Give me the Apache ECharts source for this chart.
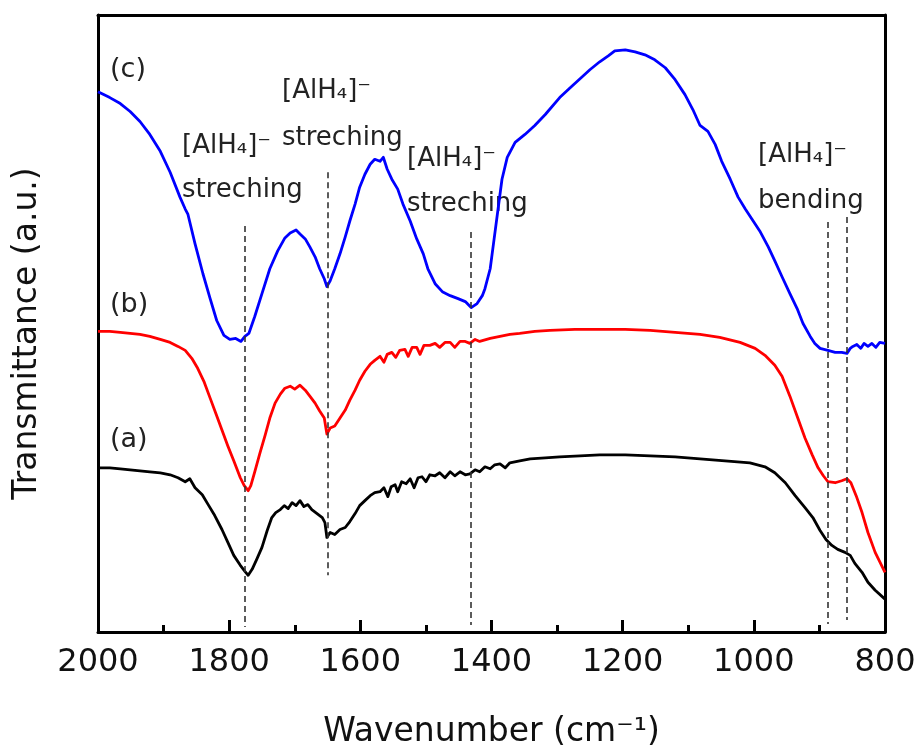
<!DOCTYPE html>
<html>
<head>
<meta charset="utf-8">
<title>FTIR spectra</title>
<script src="https://cdn.jsdelivr.net/npm/echarts@6/dist/echarts.min.js"></script>
<style>
  html, body { margin: 0; padding: 0; background: #fff; }
  #chart { width: 920px; height: 754px; }
</style>
</head>
<body>
<div id="chart"></div>
<script>
// Spectrum (a): [wavenumber cm-1, transmittance a.u.]
const curveA = [
  [2000,165],[1982,165],[1966,164],[1951,163],[1936,162],[1921,161],[1905,160],[1890,158],
  [1878,155],[1867,151],[1860,154],[1852,145],[1841,138],[1832,128],[1822,117],[1811,103],
  [1802,90],[1793,77],[1783,67],[1776,61],[1771,57],[1765,63],[1758,73],[1750,85],
  [1742,102],[1735,115],[1729,120],[1722,123],[1716,127],[1710,124],[1704,130],[1698,127],
  [1692,132],[1686,126],[1680,128],[1674,123],[1666,119],[1658,115],[1654,110],[1651,95],
  [1646,100],[1639,98],[1631,103],[1623,105],[1616,111],[1608,119],[1601,127],[1593,132],
  [1585,137],[1578,140],[1570,141],[1564,145],[1558,136],[1553,146],[1547,148],[1543,141],
  [1537,151],[1530,149],[1524,154],[1518,145],[1512,155],[1506,156],[1500,151],[1494,158],
  [1486,157],[1479,160],[1471,155],[1463,161],[1456,157],[1448,161],[1440,158],[1433,159],
  [1425,163],[1418,161],[1410,166],[1402,164],[1395,168],[1387,169],[1379,165],[1372,170],
  [1357,172],[1341,174],[1318,175],[1296,176],[1265,177],[1235,178],[1196,178],[1158,177],
  [1120,176],[1082,174],[1044,172],[1006,170],[983,166],[968,160],[952,150],[937,137],
  [922,125],[910,115],[899,102],[890,93],[881,87],[872,83],[861,80],[853,77],
  [846,69],[835,60],[826,50],[815,42],[800,33]
];

// Spectrum (b)
const curveB = [
  [2000,302],[1982,302],[1966,301],[1951,300],[1936,299],[1921,297],[1905,294],[1890,291],
  [1878,287],[1867,283],[1857,275],[1848,265],[1838,251],[1829,235],[1820,219],[1811,203],
  [1802,187],[1793,172],[1783,155],[1777,147],[1771,142],[1767,147],[1761,161],[1753,180],
  [1745,198],[1738,215],[1730,230],[1722,239],[1715,245],[1707,247],[1700,244],[1692,248],
  [1684,243],[1677,237],[1669,230],[1662,222],[1655,215],[1651,199],[1646,205],[1639,207],
  [1631,215],[1623,223],[1616,233],[1608,243],[1601,253],[1593,262],[1585,269],[1578,273],
  [1570,277],[1564,271],[1559,279],[1552,281],[1546,276],[1540,283],[1532,284],[1527,277],
  [1521,286],[1514,286],[1509,279],[1503,288],[1494,288],[1486,290],[1479,286],[1471,291],
  [1463,291],[1456,286],[1448,292],[1440,292],[1433,290],[1425,294],[1418,292],[1402,295],
  [1387,297],[1372,299],[1357,300],[1334,302],[1311,303],[1273,304],[1235,304],[1196,304],
  [1158,303],[1120,301],[1082,299],[1052,296],[1021,291],[998,285],[983,278],[968,268],
  [957,257],[945,237],[933,215],[922,195],[911,178],[902,165],[894,157],[887,151],
  [876,150],[866,152],[858,154],[852,150],[844,137],[835,120],[826,100],[815,80],[800,60]
];

// Spectrum (c)
const curveC = [
  [2000,543],[1982,537],[1966,531],[1951,523],[1936,513],[1921,500],[1905,483],[1890,462],
  [1875,437],[1867,425],[1863,420],[1852,390],[1840,360],[1829,335],[1819,313],[1808,298],
  [1799,294],[1790,295],[1782,292],[1776,297],[1770,300],[1761,317],[1750,340],[1738,365],
  [1726,383],[1715,396],[1707,401],[1698,404],[1692,400],[1684,395],[1677,387],[1669,377],
  [1662,365],[1655,355],[1651,347],[1646,353],[1639,365],[1631,380],[1623,397],[1616,413],
  [1608,430],[1601,447],[1593,460],[1585,470],[1578,475],[1570,473],[1565,477],[1562,479],
  [1559,465],[1552,455],[1543,445],[1535,430],[1524,413],[1514,395],[1504,380],[1497,365],
  [1486,350],[1475,342],[1463,338],[1451,335],[1440,332],[1431,326],[1422,330],[1414,338],
  [1410,345],[1402,365],[1396,395],[1390,425],[1384,455],[1376,477],[1364,492],[1349,500],
  [1334,509],[1318,520],[1296,537],[1280,547],[1265,556],[1250,565],[1235,573],[1222,579],
  [1212,584],[1196,585],[1181,583],[1166,580],[1151,575],[1135,567],[1120,555],[1105,540],
  [1093,525],[1082,509],[1070,503],[1059,490],[1049,473],[1036,455],[1024,437],[1013,425],
  [1003,415],[991,403],[978,387],[968,373],[957,357],[945,340],[934,325],[925,310],
  [914,297],[907,290],[899,285],[887,283],[876,281],[866,281],[858,280],[853,285],
  [849,287],[843,289],[837,285],[832,290],[826,287],[820,290],[814,286],[808,291],[800,290]
];

// Band assignments: wavenumber and vertical extent of each guide line
const bandWavenumbers = [1776, 1650, 1431, 887, 858];
const bandTop = [408, 462, 402, 412, 417];
const bandBottom = [5, 57, 7, 8, 12];

const seriesNames = ['(a)', '(b)', '(c)'];
const seriesColors = ['#000000', '#ff0000', '#0000ff'];

const FONT = '"DejaVu Sans", "Liberation Sans", Arial, sans-serif';

const chart = echarts.init(document.getElementById('chart'), null, { renderer: 'canvas' });

const guideLines = bandWavenumbers.map((w, i) => [
  { coord: [w, bandTop[i]] },
  { coord: [w, bandBottom[i]] }
]);

const curves = [curveA, curveB, curveC];

const series = curves.map((data, i) => ({
  name: seriesNames[i],
  type: 'line',
  data: data,
  showSymbol: false,
  symbol: 'none',
  lineStyle: { color: seriesColors[i], width: 2.8, join: 'round' },
  z: 3
}));

series.push({
  name: 'bands',
  type: 'line',
  data: [],
  markLine: {
    silent: true,
    symbol: ['none', 'none'],
    label: { show: false },
    lineStyle: { color: '#333', width: 1.6, type: [6, 4] },
    data: guideLines
  },
  z: 2
});

function txt(text, x, y, size) {
  return {
    type: 'text',
    silent: true,
    style: {
      text: text,
      x: x,
      y: y,
      fill: '#222',
      font: size + 'px ' + FONT,
      align: 'left',
      verticalAlign: 'middle'
    }
  };
}

const frameLine = { show: true, onZero: false, lineStyle: { color: '#000', width: 3 } };

const option = {
  animation: false,
  backgroundColor: '#fff',
  grid: { left: 98, right: 35, top: 15, bottom: 119 },
  xAxis: [
    {
      type: 'value', min: 800, max: 2000, interval: 200, inverse: true, position: 'bottom',
      name: 'Wavenumber (cm⁻¹)',
      nameLocation: 'middle',
      nameGap: 84,
      nameTextStyle: { fontFamily: FONT, fontSize: 33, color: '#111' },
      axisLine: frameLine,
      axisTick: { show: true, inside: true, length: 12, lineStyle: { color: '#000', width: 3 } },
      minorTick: { show: true, splitNumber: 2, length: 7, lineStyle: { color: '#000', width: 3 } },
      axisLabel: {
        show: true, fontFamily: FONT, fontSize: 32, color: '#111', margin: 15,
        formatter: (v) => String(v)
      },
      splitLine: { show: false }
    },
    {
      type: 'value', min: 800, max: 2000, interval: 200, inverse: true, position: 'top',
      axisLine: frameLine,
      axisTick: { show: false },
      axisLabel: { show: false },
      splitLine: { show: false }
    }
  ],
  yAxis: [
    {
      type: 'value', min: 0, max: 620, position: 'left',
      name: 'Transmittance (a.u.)',
      nameLocation: 'middle',
      nameGap: 54,
      nameTextStyle: { fontFamily: FONT, fontSize: 33, color: '#111', padding: [0, 20, 0, 0] },
      axisLine: frameLine,
      axisTick: { show: false },
      axisLabel: { show: false },
      splitLine: { show: false }
    },
    {
      type: 'value', min: 0, max: 620, position: 'right',
      axisLine: frameLine,
      axisTick: { show: false },
      axisLabel: { show: false },
      splitLine: { show: false }
    }
  ],
  series: series,
  graphic: [
    txt('(c)', 110, 70, 27),
    txt('(b)', 110, 305, 27),
    txt('(a)', 110, 440, 27),
    txt('[AlH₄]⁻', 182, 146, 26),
    txt('streching', 182, 190, 26),
    txt('[AlH₄]⁻', 282, 91, 26),
    txt('streching', 282, 138, 26),
    txt('[AlH₄]⁻', 407, 159, 26),
    txt('streching', 407, 204, 26),
    txt('[AlH₄]⁻', 758, 155, 26),
    txt('bending', 758, 201, 26)
  ]
};

chart.setOption(option);
</script>
</body>
</html>
